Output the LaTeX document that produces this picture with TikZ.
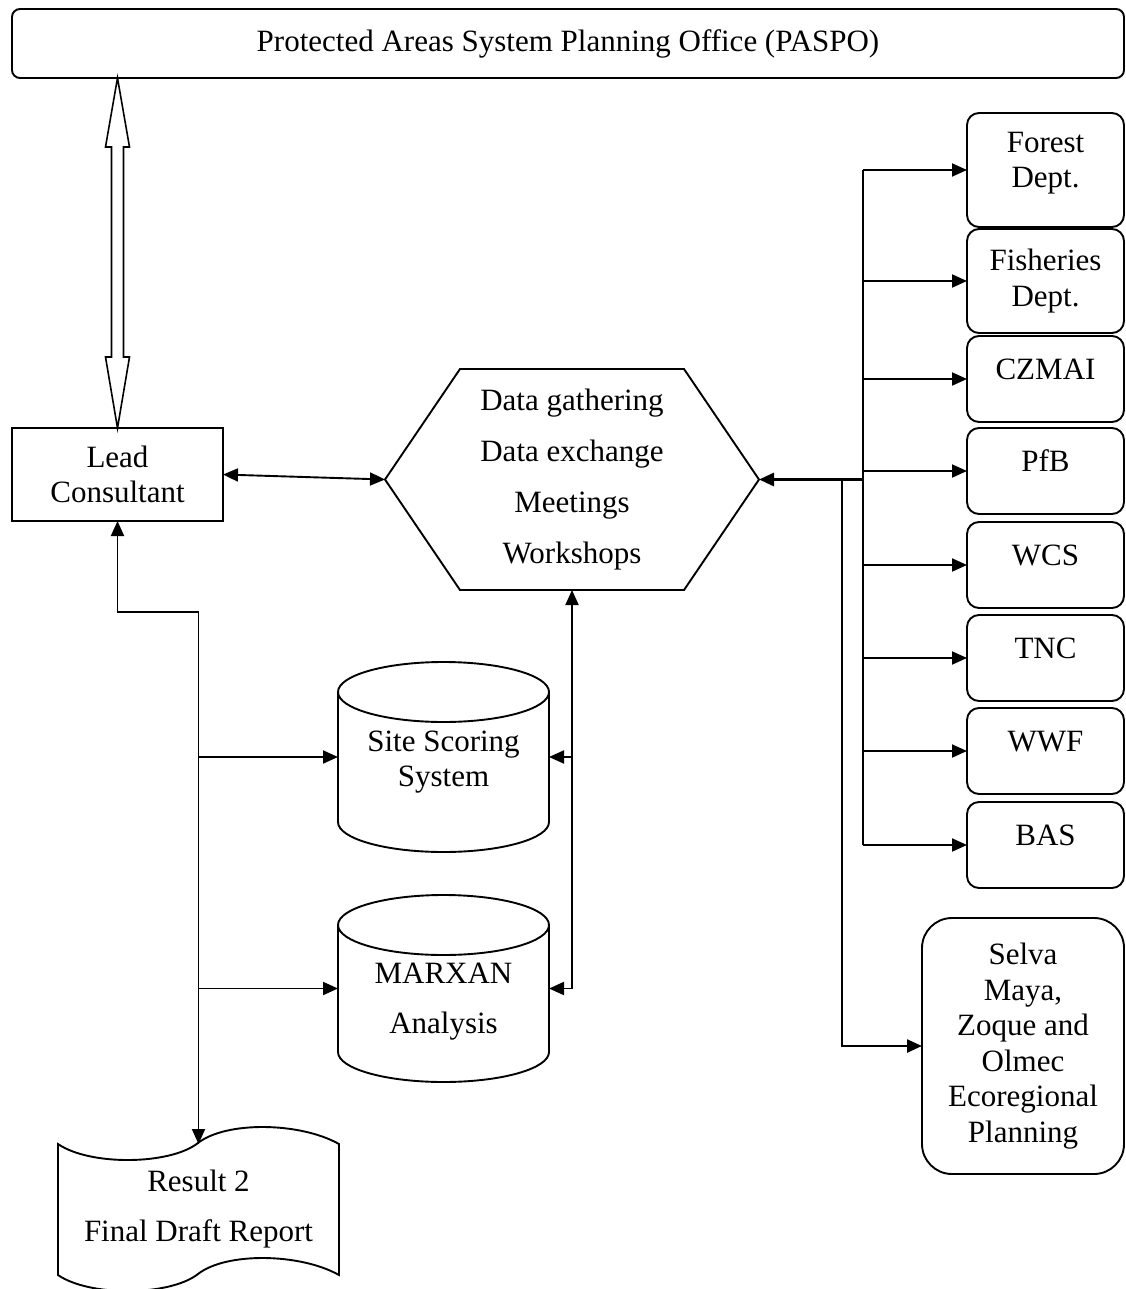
\documentclass[tikz,border=0pt]{standalone}
\usepackage{fontspec}
\setmainfont{Liberation Serif}
\usetikzlibrary{arrows.meta,calc}
\newcommand\padb[1]{\rule[-#1]{0pt}{#1}}
\newcommand\mycyl[1]{%
  \draw[ln] ($(#1.north west)+(0,30)$) -- ($(#1.south west)+(0,-30)$)
    arc[start angle=180,end angle=360,x radius=105.5pt,y radius=30pt]
    -- ($(#1.north east)+(0,30)$);
  \draw[ln] ($(#1.north)+(0,30)$) ellipse [x radius=105.5pt, y radius=30pt];}
\begin{document}
\begin{tikzpicture}[x=1pt,y=-1pt,
  every node/.style={font=\fontsize{31}{35.5}\selectfont, inner sep=0pt, outer sep=0pt, align=center},
  ln/.style={line width=1.9pt},
  bx/.style={draw, line width=1.9pt},
  org/.style={bx, rounded corners=12pt, minimum width=157pt},
  tip/.style={-{Triangle[length=15pt,width=13pt]}},
  tips/.style={{Triangle[length=15pt,width=13pt]}-{Triangle[length=15pt,width=13pt]}}]
\useasboundingbox (0,0) rectangle (1125,1289);

% nodes
\node[bx, rounded corners=8pt, minimum width=1112pt, minimum height=69pt] (paspo) at (568,43.5) {Protected Areas System Planning Office (PASPO)};
\node[bx, minimum width=211pt, minimum height=93pt] (lead) at (117.5,474.5) {Lead\\Consultant};
\node[minimum width=374pt, minimum height=221pt] (hex) at (572,479.5) {Data gathering\\[15.5pt]Data exchange\\[15.5pt]Meetings\\[15.5pt]Workshops};
\draw[ln] (hex.west) -- ($(hex.north west)+(75,0)$) -- ($(hex.north east)+(-75,0)$) -- (hex.east) -- ($(hex.south east)+(-75,0)$) -- ($(hex.south west)+(75,0)$) -- cycle;

\node[minimum width=211pt, minimum height=190pt] (site) at (443.5,757) {\rule{0pt}{31pt}Site Scoring\\System};
\mycyl{site}
\node[minimum width=211pt, minimum height=187pt] (marxan) at (443.5,988.5) {\rule{0pt}{47pt}MARXAN\\[15pt]Analysis};
\mycyl{marxan}

\node[minimum width=281pt, minimum height=131pt] (rep) at (198.5,1209.5) {Result 2\\[14.5pt]Final Draft Report};
\draw[ln, shift={(rep.north west)}] (0,0) .. controls (32,22) and (112,21) .. (140,-1)
   .. controls (168,-23) and (242,-22) .. (281,0) -- (281,131)
   .. controls (242,109) and (168,108) .. (140,130)
   .. controls (112,152) and (32,153) .. (0,131) -- cycle;

\node[org, minimum height=114pt] (forest) at (1045.5,170) {Forest\\Dept.\padb{20pt}};
\node[org, minimum height=104pt] (fish) at (1045.5,281) {Fisheries\\Dept.};
\node[org, minimum height=86pt] (czmai) at (1045.5,379) {CZMAI\padb{20pt}};
\node[org, minimum height=86pt] (pfb) at (1045.5,471) {PfB\padb{20pt}};
\node[org, minimum height=86pt] (wcs) at (1045.5,565) {WCS\padb{20pt}};
\node[org, minimum height=86pt] (tnc) at (1045.5,658) {TNC\padb{20pt}};
\node[org, minimum height=86pt] (wwf) at (1045.5,751) {WWF\padb{20pt}};
\node[org, minimum height=86pt] (bas) at (1045.5,845) {BAS\padb{20pt}};
\node[bx, rounded corners=30pt, minimum width=202pt, minimum height=256pt] (selva) at (1023,1046) {Selva\\Maya,\\Zoque and\\Olmec\\Ecoregional\\Planning};

% hollow double arrow PASPO <-> Lead
\coordinate (T) at (paspo.south -| lead.north);
\draw[line width=1.6pt, line join=miter] (T) -- ($(T)+(12,69)$) -- ($(T)+(6,69)$) -- ($(lead.north)+(6,-71)$) -- ($(lead.north)+(12,-71)$) -- (lead.north) -- ($(lead.north)+(-12,-71)$) -- ($(lead.north)+(-6,-71)$) -- ($(T)+(-6,69)$) -- ($(T)+(-12,69)$) -- cycle;

% connectors
\draw[ln, tips] (lead.east) -- (hex.west);
\coordinate (j1) at (198.5,612);
\draw[ln, tips] (lead.south) |- (j1) -- (rep.north);
\draw[ln, tip] (site.west -| j1) -- (site.west);
\draw[ln, tip] (marxan.west -| j1) -- (marxan.west);
\draw[ln, tips] (hex.south) |- (marxan.east);
\draw[ln, tip] (site.east -| hex.south) -- (site.east);

\coordinate (bus) at (863,479.5);
\coordinate (bus2) at (842,479.5);
\draw[line width=3pt, tip] (bus) -- (hex.east);
\draw[ln] (forest.west -| bus) -- (bas.west -| bus);
\foreach \n in {forest,fish,czmai,pfb,wcs,tnc,wwf,bas}
  \draw[ln, tip] (\n.west -| bus) -- (\n.west);
\draw[line width=2.4pt, tip] (bus2) |- (selva.west);
\end{tikzpicture}
\end{document}
